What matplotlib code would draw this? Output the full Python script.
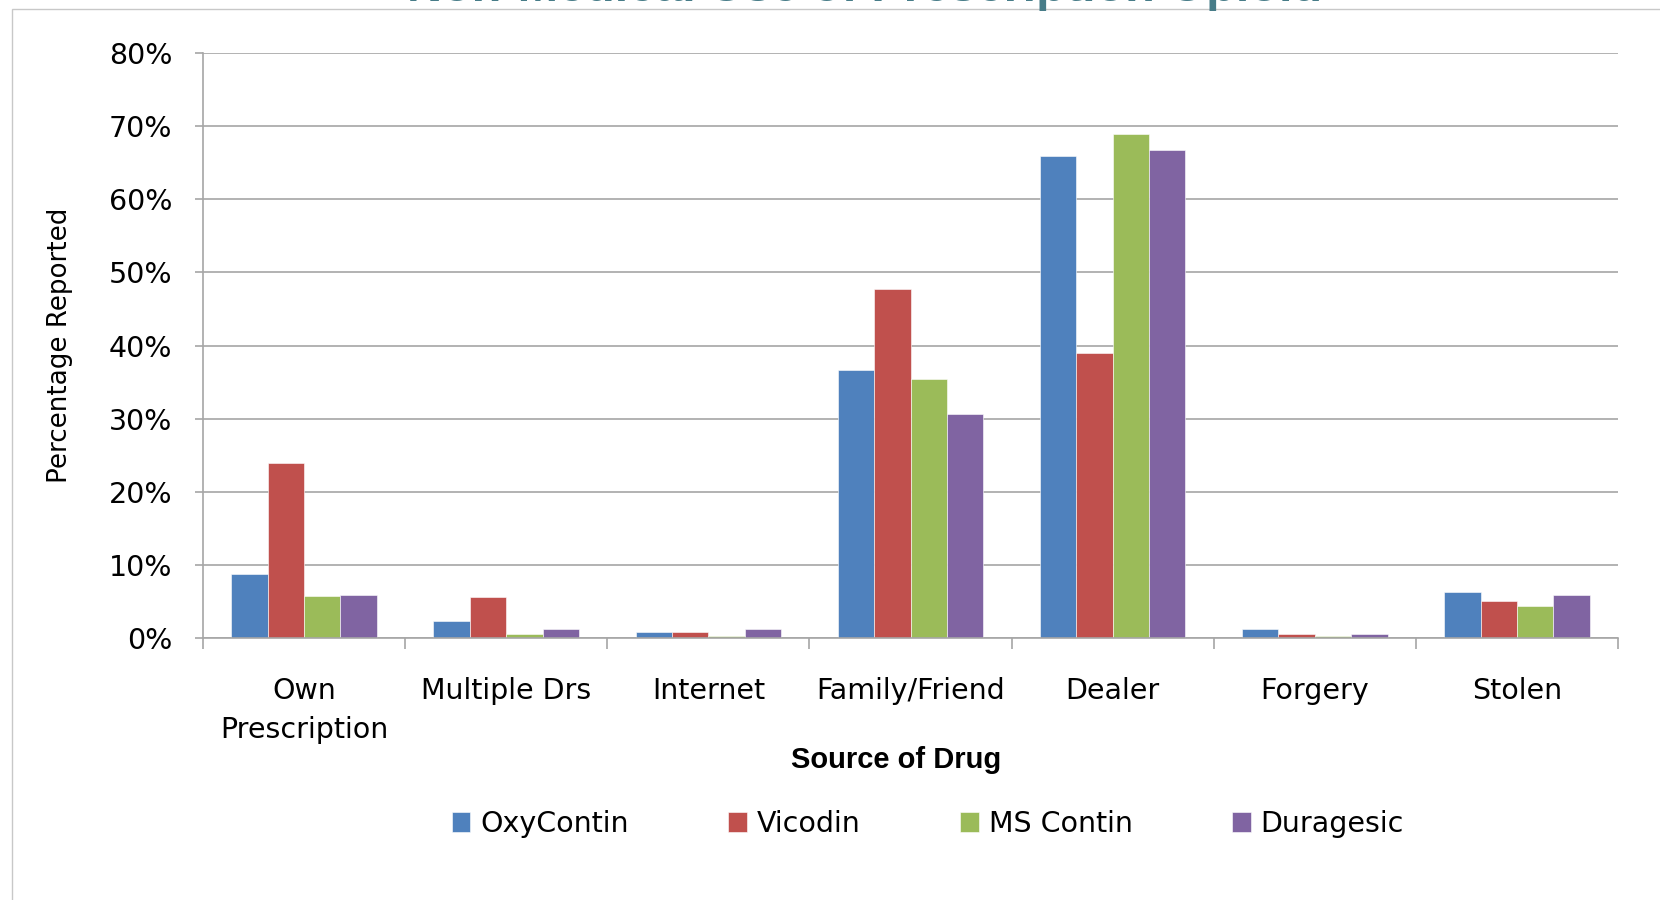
import numpy as np
import matplotlib
matplotlib.use("Agg")
import matplotlib.pyplot as plt
from matplotlib.patches import Rectangle

categories = ["Own\nPrescription", "Multiple Drs", "Internet", "Family/Friend",
              "Dealer", "Forgery", "Stolen"]
series_names = ["OxyContin", "Vicodin", "MS Contin", "Duragesic"]
oxycontin = [8.7, 2.3, 0.9, 36.6, 65.9, 1.2, 6.3]
vicodin = [23.9, 5.6, 0.9, 47.7, 39.0, 0.6, 5.1]
ms_contin = [5.7, 0.6, 0.3, 35.4, 68.9, 0.3, 4.4]
duragesic = [5.9, 1.2, 1.2, 30.7, 66.7, 0.6, 5.9]
yticks = [0, 10, 20, 30, 40, 50, 60, 70, 80]

colors = ["#4F81BD", "#C0504D", "#9BBB59", "#8064A2"]
grid_gray = "#A6A6A6"

fig = plt.figure(figsize=(16.6, 9), dpi=100)
ax = fig.add_axes([0.1223, 0.291, 0.8524, 0.650])

x = np.arange(len(categories))
w = 0.18
for i, (vals, name) in enumerate(zip([oxycontin, vicodin, ms_contin, duragesic], series_names)):
    ax.bar(x + (i - 1.5) * w, vals, width=w, color=colors[i], label=name, zorder=3,
           edgecolor="white", linewidth=0.4)

ax.set_xlim(-0.5, len(categories) - 0.5)
ax.set_ylim(0, 80)
ax.set_yticks(yticks)
ax.set_yticklabels([f"{t}%" for t in yticks], fontsize=20.5, family="DejaVu Sans")
ax.yaxis.grid(True, color=grid_gray, linewidth=1.2, zorder=0)
ax.tick_params(axis="y", length=6, width=1.2, color=grid_gray, pad=16)

# category boundaries get the tick marks, centres get the labels
ax.set_xticks(np.arange(-0.5, len(categories)), minor=False)
ax.set_xticklabels([])
ax.tick_params(axis="x", which="major", length=8, width=1.2, color=grid_gray, direction="out")
ax.set_xticks(x, minor=True)
ax.set_xticklabels(categories, minor=True, fontsize=20.5, family="DejaVu Sans", linespacing=1.5)
ax.tick_params(axis="x", which="minor", length=0, pad=28)

for s in ["top", "right"]:
    ax.spines[s].set_visible(False)
for s in ["left", "bottom"]:
    ax.spines[s].set_color(grid_gray)
    ax.spines[s].set_linewidth(1.2)
ax.spines["bottom"].set_zorder(4)

ax.set_ylabel("Percentage Reported", fontsize=18.8, family="DejaVu Sans")
ax.yaxis.set_label_coords(-0.092, 0.5)

fig.text(0.54, 1 - 760 / 900, "Source of Drug", fontsize=21, fontweight="bold",
         family="Liberation Sans", ha="center", va="center")

leg = fig.legend(loc="center", bbox_to_anchor=(0.559, 1 - 824 / 900), ncol=4, frameon=False,
                 prop={"family": "DejaVu Sans", "size": 20.5}, handlelength=0.65, handleheight=0.65,
                 handletextpad=0.35, columnspacing=3.5)

# cut-off title and frame of the slide
fig.text(0.5207, 1 - 1 / 900, "Non-Medical Use of Prescription Opioid", fontsize=35,
         fontweight="bold", family="Liberation Sans", color="#477C88", ha="center", va="baseline")
fig.patches.append(Rectangle((12 / 1660, -0.05), 1.1, 1 - 9 / 900 + 0.05, transform=fig.transFigure,
                             fill=False, edgecolor="#C8C8C8", linewidth=1.0, zorder=0))

fig.savefig("out.png", dpi=100)
